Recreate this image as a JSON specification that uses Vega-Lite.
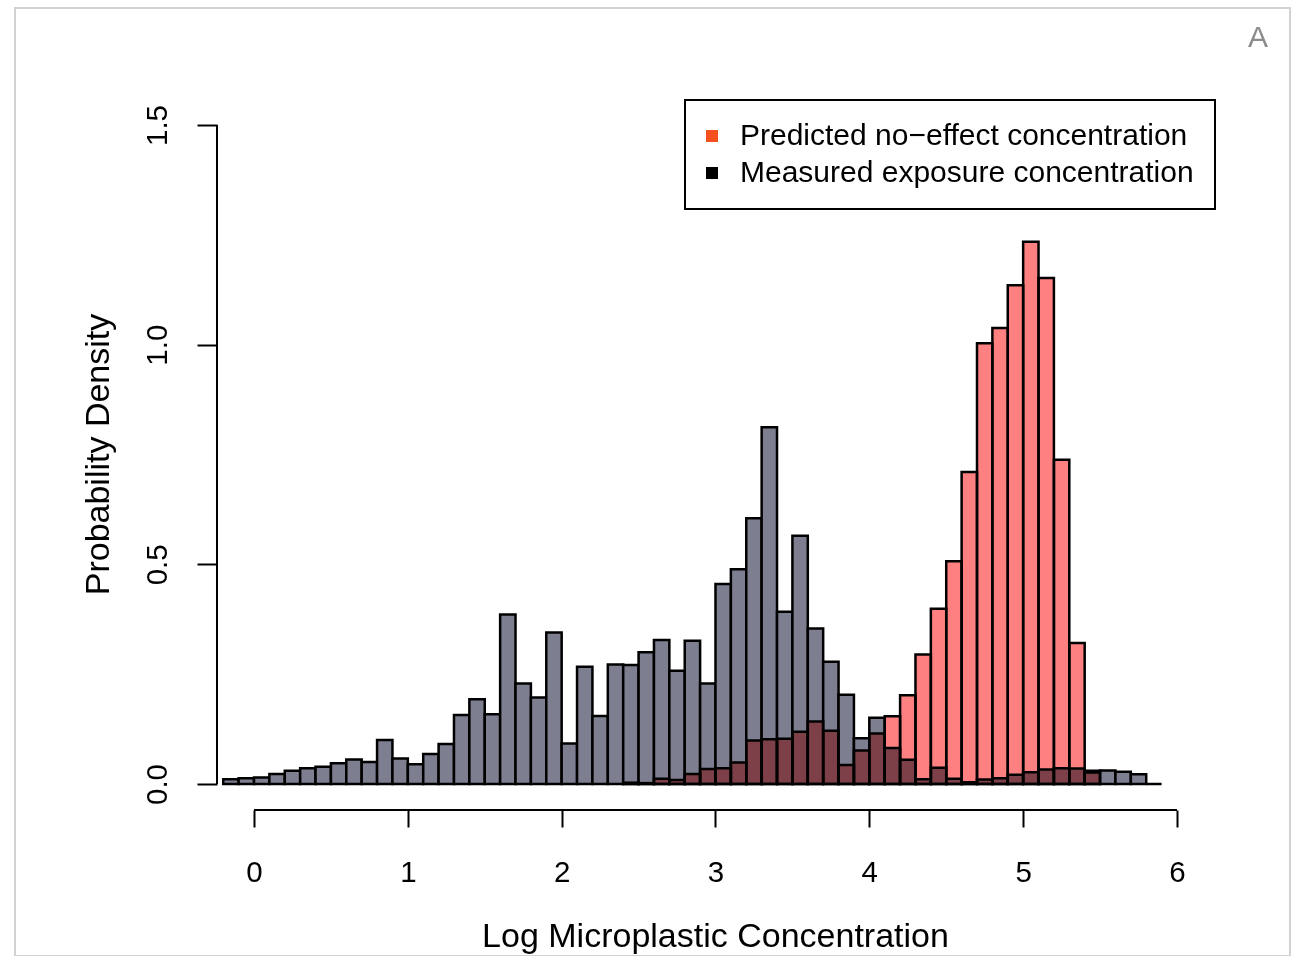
{
  "$schema": "https://vega.github.io/schema/vega-lite/v6.json",
  "width": 1275,
  "height": 948,
  "autosize": {"type": "none"},
  "padding": {"left": 15, "top": 8, "right": 9, "bottom": 0},
  "background": "white",
  "config": {
    "view": {"stroke": "#d2d2d2", "strokeWidth": 2},
    "font": "Liberation Sans"
  },
  "title": {
    "text": "A",
    "anchor": "end",
    "frame": "group",
    "fontSize": 30,
    "fontWeight": "normal",
    "font": "Liberation Sans",
    "color": "#8c8c8c",
    "baseline": "alphabetic",
    "offset": 0,
    "dx": -22,
    "dy": 69
  },
  "datasets": {
    "hist": [
      {"series": "Measured exposure concentration", "lo": -0.2, "hi": -0.1, "density": 0.011},
      {"series": "Measured exposure concentration", "lo": -0.1, "hi": 0.0, "density": 0.013},
      {"series": "Measured exposure concentration", "lo": 0.0, "hi": 0.1, "density": 0.015},
      {"series": "Measured exposure concentration", "lo": 0.1, "hi": 0.2, "density": 0.023},
      {"series": "Measured exposure concentration", "lo": 0.2, "hi": 0.3, "density": 0.030},
      {"series": "Measured exposure concentration", "lo": 0.3, "hi": 0.4, "density": 0.036},
      {"series": "Measured exposure concentration", "lo": 0.4, "hi": 0.5, "density": 0.039},
      {"series": "Measured exposure concentration", "lo": 0.5, "hi": 0.6, "density": 0.047},
      {"series": "Measured exposure concentration", "lo": 0.6, "hi": 0.7, "density": 0.056},
      {"series": "Measured exposure concentration", "lo": 0.7, "hi": 0.8, "density": 0.050},
      {"series": "Measured exposure concentration", "lo": 0.8, "hi": 0.9, "density": 0.100},
      {"series": "Measured exposure concentration", "lo": 0.9, "hi": 1.0, "density": 0.058},
      {"series": "Measured exposure concentration", "lo": 1.0, "hi": 1.1, "density": 0.045},
      {"series": "Measured exposure concentration", "lo": 1.1, "hi": 1.2, "density": 0.068},
      {"series": "Measured exposure concentration", "lo": 1.2, "hi": 1.3, "density": 0.091},
      {"series": "Measured exposure concentration", "lo": 1.3, "hi": 1.4, "density": 0.157},
      {"series": "Measured exposure concentration", "lo": 1.4, "hi": 1.5, "density": 0.193},
      {"series": "Measured exposure concentration", "lo": 1.5, "hi": 1.6, "density": 0.159},
      {"series": "Measured exposure concentration", "lo": 1.6, "hi": 1.7, "density": 0.386},
      {"series": "Measured exposure concentration", "lo": 1.7, "hi": 1.8, "density": 0.229},
      {"series": "Measured exposure concentration", "lo": 1.8, "hi": 1.9, "density": 0.197},
      {"series": "Measured exposure concentration", "lo": 1.9, "hi": 2.0, "density": 0.345},
      {"series": "Measured exposure concentration", "lo": 2.0, "hi": 2.1, "density": 0.092},
      {"series": "Measured exposure concentration", "lo": 2.1, "hi": 2.2, "density": 0.267},
      {"series": "Measured exposure concentration", "lo": 2.2, "hi": 2.3, "density": 0.155},
      {"series": "Measured exposure concentration", "lo": 2.3, "hi": 2.4, "density": 0.272},
      {"series": "Measured exposure concentration", "lo": 2.4, "hi": 2.5, "density": 0.271},
      {"series": "Measured exposure concentration", "lo": 2.5, "hi": 2.6, "density": 0.300},
      {"series": "Measured exposure concentration", "lo": 2.6, "hi": 2.7, "density": 0.328},
      {"series": "Measured exposure concentration", "lo": 2.7, "hi": 2.8, "density": 0.258},
      {"series": "Measured exposure concentration", "lo": 2.8, "hi": 2.9, "density": 0.326},
      {"series": "Measured exposure concentration", "lo": 2.9, "hi": 3.0, "density": 0.229},
      {"series": "Measured exposure concentration", "lo": 3.0, "hi": 3.1, "density": 0.455},
      {"series": "Measured exposure concentration", "lo": 3.1, "hi": 3.2, "density": 0.489},
      {"series": "Measured exposure concentration", "lo": 3.2, "hi": 3.3, "density": 0.605},
      {"series": "Measured exposure concentration", "lo": 3.3, "hi": 3.4, "density": 0.812},
      {"series": "Measured exposure concentration", "lo": 3.4, "hi": 3.5, "density": 0.392},
      {"series": "Measured exposure concentration", "lo": 3.5, "hi": 3.6, "density": 0.565},
      {"series": "Measured exposure concentration", "lo": 3.6, "hi": 3.7, "density": 0.354},
      {"series": "Measured exposure concentration", "lo": 3.7, "hi": 3.8, "density": 0.278},
      {"series": "Measured exposure concentration", "lo": 3.8, "hi": 3.9, "density": 0.203},
      {"series": "Measured exposure concentration", "lo": 3.9, "hi": 4.0, "density": 0.104},
      {"series": "Measured exposure concentration", "lo": 4.0, "hi": 4.1, "density": 0.151},
      {"series": "Measured exposure concentration", "lo": 4.1, "hi": 4.2, "density": 0.082},
      {"series": "Measured exposure concentration", "lo": 4.2, "hi": 4.3, "density": 0.055},
      {"series": "Measured exposure concentration", "lo": 4.3, "hi": 4.4, "density": 0.011},
      {"series": "Measured exposure concentration", "lo": 4.4, "hi": 4.5, "density": 0.037},
      {"series": "Measured exposure concentration", "lo": 4.5, "hi": 4.6, "density": 0.012},
      {"series": "Measured exposure concentration", "lo": 4.6, "hi": 4.7, "density": 0.004},
      {"series": "Measured exposure concentration", "lo": 4.7, "hi": 4.8, "density": 0.010},
      {"series": "Measured exposure concentration", "lo": 4.8, "hi": 4.9, "density": 0.013},
      {"series": "Measured exposure concentration", "lo": 4.9, "hi": 5.0, "density": 0.021},
      {"series": "Measured exposure concentration", "lo": 5.0, "hi": 5.1, "density": 0.027},
      {"series": "Measured exposure concentration", "lo": 5.1, "hi": 5.2, "density": 0.033},
      {"series": "Measured exposure concentration", "lo": 5.2, "hi": 5.3, "density": 0.036},
      {"series": "Measured exposure concentration", "lo": 5.3, "hi": 5.4, "density": 0.035},
      {"series": "Measured exposure concentration", "lo": 5.4, "hi": 5.5, "density": 0.026},
      {"series": "Measured exposure concentration", "lo": 5.5, "hi": 5.6, "density": 0.031},
      {"series": "Measured exposure concentration", "lo": 5.6, "hi": 5.7, "density": 0.028},
      {"series": "Measured exposure concentration", "lo": 5.7, "hi": 5.8, "density": 0.022},
      {"series": "Measured exposure concentration", "lo": 5.8, "hi": 5.9, "density": 0.0},
      {"series": "Predicted no−effect concentration", "lo": 2.4, "hi": 2.5, "density": 0.003},
      {"series": "Predicted no−effect concentration", "lo": 2.5, "hi": 2.6, "density": 0.002},
      {"series": "Predicted no−effect concentration", "lo": 2.6, "hi": 2.7, "density": 0.012},
      {"series": "Predicted no−effect concentration", "lo": 2.7, "hi": 2.8, "density": 0.009},
      {"series": "Predicted no−effect concentration", "lo": 2.8, "hi": 2.9, "density": 0.023},
      {"series": "Predicted no−effect concentration", "lo": 2.9, "hi": 3.0, "density": 0.034},
      {"series": "Predicted no−effect concentration", "lo": 3.0, "hi": 3.1, "density": 0.036},
      {"series": "Predicted no−effect concentration", "lo": 3.1, "hi": 3.2, "density": 0.049},
      {"series": "Predicted no−effect concentration", "lo": 3.2, "hi": 3.3, "density": 0.099},
      {"series": "Predicted no−effect concentration", "lo": 3.3, "hi": 3.4, "density": 0.102},
      {"series": "Predicted no−effect concentration", "lo": 3.4, "hi": 3.5, "density": 0.103},
      {"series": "Predicted no−effect concentration", "lo": 3.5, "hi": 3.6, "density": 0.119},
      {"series": "Predicted no−effect concentration", "lo": 3.6, "hi": 3.7, "density": 0.142},
      {"series": "Predicted no−effect concentration", "lo": 3.7, "hi": 3.8, "density": 0.121},
      {"series": "Predicted no−effect concentration", "lo": 3.8, "hi": 3.9, "density": 0.043},
      {"series": "Predicted no−effect concentration", "lo": 3.9, "hi": 4.0, "density": 0.076},
      {"series": "Predicted no−effect concentration", "lo": 4.0, "hi": 4.1, "density": 0.115},
      {"series": "Predicted no−effect concentration", "lo": 4.1, "hi": 4.2, "density": 0.154},
      {"series": "Predicted no−effect concentration", "lo": 4.2, "hi": 4.3, "density": 0.202},
      {"series": "Predicted no−effect concentration", "lo": 4.3, "hi": 4.4, "density": 0.295},
      {"series": "Predicted no−effect concentration", "lo": 4.4, "hi": 4.5, "density": 0.399},
      {"series": "Predicted no−effect concentration", "lo": 4.5, "hi": 4.6, "density": 0.507},
      {"series": "Predicted no−effect concentration", "lo": 4.6, "hi": 4.7, "density": 0.710},
      {"series": "Predicted no−effect concentration", "lo": 4.7, "hi": 4.8, "density": 1.003},
      {"series": "Predicted no−effect concentration", "lo": 4.8, "hi": 4.9, "density": 1.038},
      {"series": "Predicted no−effect concentration", "lo": 4.9, "hi": 5.0, "density": 1.135},
      {"series": "Predicted no−effect concentration", "lo": 5.0, "hi": 5.1, "density": 1.234},
      {"series": "Predicted no−effect concentration", "lo": 5.1, "hi": 5.2, "density": 1.152},
      {"series": "Predicted no−effect concentration", "lo": 5.2, "hi": 5.3, "density": 0.738},
      {"series": "Predicted no−effect concentration", "lo": 5.3, "hi": 5.4, "density": 0.321},
      {"series": "Predicted no−effect concentration", "lo": 5.4, "hi": 5.5, "density": 0.030}
    ],
    "one": [{}]
  },
  "layer": [
    {
      "data": {"name": "hist"},
      "transform": [{"filter": "datum.series === 'Measured exposure concentration'"}],
      "mark": {"type": "bar", "fill": "#7d7e90", "stroke": "black", "strokeWidth": 2.5},
      "encoding": {
        "x": {
          "field": "lo",
          "type": "quantitative",
          "scale": {"domain": [-1.5537, 6.7347], "nice": false, "zero": false},
          "axis": {
            "values": [0, 1, 2, 3, 4, 5, 6],
            "format": "d",
            "offset": -146,
            "domain": false,
            "grid": false,
            "tickSize": 17,
            "tickWidth": 2,
            "tickColor": "black",
            "labelFontSize": 29.5,
            "labelFont": "Liberation Sans",
            "labelColor": "black",
            "labelBaseline": "alphabetic",
            "labelPadding": 54,
            "labelFlush": false,
            "labelOverlap": false,
            "title": "Log Microplastic Concentration",
            "titleFont": "Liberation Sans",
            "titleFontSize": 34,
            "titleFontWeight": "normal",
            "titleColor": "black",
            "titleX": 700,
            "titleY": 136,
            "titleAlign": "center",
            "titleBaseline": "alphabetic"
          }
        },
        "x2": {"field": "hi"},
        "y": {
          "field": "density",
          "type": "quantitative",
          "scale": {"domain": [-0.3915, 1.7663], "nice": false, "zero": false},
          "axis": {
            "values": [0, 0.5, 1, 1.5],
            "format": ".1f",
            "offset": -202,
            "domain": false,
            "grid": false,
            "tickSize": 20,
            "tickWidth": 2,
            "tickColor": "black",
            "labelAngle": -90,
            "labelAlign": "center",
            "labelBaseline": "alphabetic",
            "labelPadding": 31,
            "labelFontSize": 29.5,
            "labelFont": "Liberation Sans",
            "labelColor": "black",
            "labelFlush": false,
            "labelOverlap": false,
            "title": "Probability Density",
            "titleFont": "Liberation Sans",
            "titleFontSize": 34,
            "titleFontWeight": "normal",
            "titleColor": "black",
            "titleAngle": -90,
            "titleX": -109,
            "titleY": 446,
            "titleAlign": "center",
            "titleBaseline": "alphabetic"
          }
        },
        "y2": {"datum": 0}
      }
    },
    {
      "data": {"name": "hist"},
      "transform": [{"filter": "datum.series === 'Predicted no−effect concentration'"}],
      "mark": {"type": "bar", "fill": "#ff8080", "stroke": "black", "strokeWidth": 2.5, "blend": "multiply"},
      "encoding": {
        "x": {"field": "lo", "type": "quantitative"},
        "x2": {"field": "hi"},
        "y": {"field": "density", "type": "quantitative"},
        "y2": {"datum": 0}
      }
    },
    {
      "data": {"name": "hist"},
      "mark": {"type": "point", "filled": true, "opacity": 0},
      "encoding": {
        "x": {"field": "lo", "type": "quantitative"},
        "y": {"field": "density", "type": "quantitative"},
        "color": {
          "field": "series",
          "type": "nominal",
          "scale": {
            "domain": ["Predicted no−effect concentration", "Measured exposure concentration"],
            "range": ["#f4511e", "#000000"]
          },
          "legend": {
            "title": null,
            "orient": "none",
            "legendX": 670,
            "legendY": 92,
            "padding": 21,
            "strokeColor": "black",
            "fillColor": "white",
            "symbolType": "square",
            "symbolSize": 144,
            "symbolOpacity": 1,
            "symbolStrokeWidth": 0,
            "symbolOffset": -9,
            "labelFontSize": 30,
            "labelFont": "Liberation Sans",
            "labelColor": "black",
            "labelOffset": 13,
            "labelLimit": 0,
            "rowPadding": 7,
            "encode": {"legend": {"update": {"strokeWidth": {"value": 2}}}}
          }
        }
      }
    },
    {
      "data": {"name": "one"},
      "mark": {"type": "rule", "color": "black", "strokeWidth": 2},
      "encoding": {
        "x": {"datum": -0.2406, "type": "quantitative"},
        "y": {"datum": 0, "type": "quantitative"},
        "y2": {"datum": 1.5}
      }
    },
    {
      "data": {"name": "one"},
      "mark": {"type": "rule", "color": "black", "strokeWidth": 2},
      "encoding": {
        "x": {"datum": 0, "type": "quantitative"},
        "x2": {"datum": 6},
        "y": {"datum": -0.05918, "type": "quantitative"}
      }
    }
  ]
}
